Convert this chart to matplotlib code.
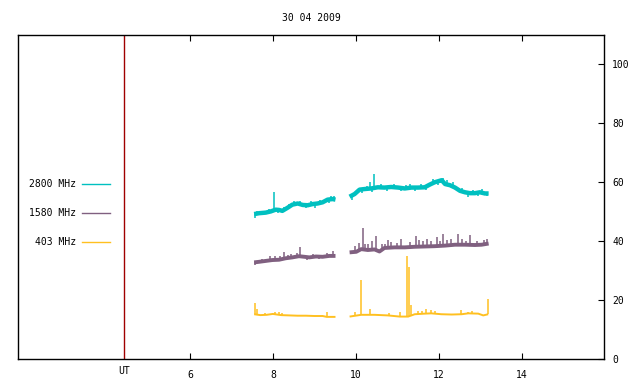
import numpy as np
import matplotlib
matplotlib.use("Agg")
import matplotlib.pyplot as plt
from matplotlib.lines import Line2D

plt.rcParams['font.family'] = ['DejaVu Sans Mono']

title = "30 04 2009"
labels = ["2800 MHz", "1580 MHz", "403 MHz"]
colors = ["#00c0c0", "#806080", "#ffc020"]
ut_hour = 4.42

# 2800 MHz, two segments (hour, value)
t2800_a = [7.55, 7.67, 7.83, 7.95, 8.07, 8.15, 8.23, 8.35, 8.47, 8.60, 8.72, 8.84, 8.96, 9.08, 9.20, 9.32, 9.44, 9.51]
v2800_a = [49.2, 49.5, 49.7, 50.1, 50.7, 50.6, 50.3, 51.3, 52.4, 52.8, 52.3, 52.2, 52.6, 52.8, 53.2, 54.1, 54.3, 54.1]
t2800_b = [9.85, 9.97, 10.09, 10.21, 10.37, 10.53, 10.69, 10.85, 11.02, 11.18, 11.34, 11.50, 11.66, 11.78, 11.90,
           12.02, 12.07, 12.15, 12.27, 12.39, 12.51, 12.63, 12.75, 12.87, 12.99, 13.11, 13.20]
v2800_b = [55.1, 56.0, 57.5, 57.7, 57.9, 58.3, 58.2, 58.4, 58.2, 57.9, 58.2, 58.2, 58.3, 59.2, 60.0,
           60.5, 60.7, 59.4, 59.0, 58.2, 57.1, 56.6, 56.3, 56.3, 56.6, 56.2, 56.2]
s2800_t = [8.03, 10.33, 10.45, 11.30, 12.20, 8.50, 9.40,
           7.56, 7.62, 7.74, 7.90, 8.12, 8.28, 8.40, 8.66, 8.80, 8.92, 9.02, 9.14, 9.26, 9.36, 9.48,
           9.90, 10.02, 10.15, 10.27, 10.40, 10.60, 10.75, 10.92, 11.08, 11.22, 11.42, 11.58, 11.70,
           11.85, 11.97, 12.10, 12.33, 12.45, 12.57, 12.70, 12.82, 12.94, 13.05, 13.16]
s2800_v = [56.8, 60.0, 62.8, 59.4, 60.9, 53.6, 55.3,
           48.0, 50.4, 48.8, 51.0, 49.4, 51.6, 52.5, 53.7, 51.3, 53.5, 51.4, 53.9, 54.2, 52.8, 55.4,
           54.0, 57.0, 56.4, 58.9, 56.8, 59.5, 57.0, 59.3, 57.0, 59.0, 57.0, 59.4, 57.5,
           61.0, 59.2, 61.6, 60.2, 56.9, 58.2, 55.0, 57.4, 55.2, 57.6, 55.2]

# 1580 MHz
t1580_a = [7.55, 7.67, 7.83, 7.99, 8.15, 8.31, 8.47, 8.63, 8.76, 8.88, 9.04, 9.20, 9.36, 9.51]
v1580_a = [32.8, 33.0, 33.3, 33.6, 33.7, 34.2, 34.5, 34.9, 34.7, 34.5, 34.8, 34.7, 35.0, 35.0]
t1580_b = [9.85, 10.01, 10.13, 10.29, 10.45, 10.57, 10.69, 10.93, 11.18, 11.42, 11.66, 11.90, 12.15, 12.39,
           12.63, 12.87, 13.03, 13.20]
v1580_b = [36.2, 36.4, 37.3, 37.0, 37.2, 36.5, 37.7, 37.9, 37.9, 38.1, 38.2, 38.3, 38.5, 38.8,
           38.8, 38.7, 38.8, 39.2]
s1580_t = [7.93, 8.27, 8.66, 9.46, 9.97, 10.17, 10.49, 10.85, 11.10, 11.46, 11.62, 11.82, 11.95, 12.11,
           12.20, 12.46, 12.75, 13.16, 8.05, 8.45, 10.30, 10.70,
           7.58, 7.75, 8.18, 8.36, 8.58, 8.82, 8.98, 9.12, 9.30, 10.08, 10.22, 10.40, 10.62, 10.78,
           11.00, 11.30, 11.52, 11.72, 12.02, 12.30, 12.55, 12.65, 12.92, 13.08]
s1580_v = [34.8, 36.2, 38.1, 36.7, 38.4, 44.4, 41.8, 39.6, 40.7, 41.6, 39.9, 40.0, 41.3, 42.6,
           40.3, 42.6, 42.0, 40.7, 35.0, 35.6, 39.0, 39.2,
           31.8, 34.0, 35.0, 35.4, 36.0, 33.6, 35.8, 33.8, 36.0, 39.5, 38.9, 40.0, 39.2, 40.4,
           39.4, 39.8, 40.3, 40.6, 39.9, 40.6, 40.8, 40.0, 40.1, 40.3]

# 403 MHz
t403_a = [7.55, 7.70, 7.85, 8.00, 8.10, 8.20, 8.40, 8.60, 8.80, 9.00, 9.20, 9.30, 9.51]
v403_a = [15.2, 14.9, 15.0, 15.3, 15.1, 14.9, 14.8, 14.7, 14.7, 14.6, 14.6, 14.3, 14.3]
t403_b = [9.85, 10.13, 10.45, 10.77, 11.06, 11.26, 11.42, 11.66, 11.82, 12.06, 12.31, 12.55, 12.71, 12.95,
          13.07, 13.19]
v403_b = [14.4, 15.0, 15.0, 14.8, 14.4, 14.4, 15.2, 15.4, 15.5, 15.2, 15.1, 15.2, 15.5, 15.4,
          14.8, 15.2]
s403_t = [7.56, 7.62, 8.05, 9.30, 9.98, 10.13, 10.33, 10.81, 11.06, 11.24, 11.27, 11.34, 11.82, 12.54, 13.18,
          7.80, 8.15, 8.22, 11.50, 11.60, 11.70, 11.90, 12.70, 12.80]
s403_v = [18.9, 16.9, 16.0, 15.8, 15.8, 26.9, 17.1, 15.6, 16.0, 35.0, 31.4, 18.4, 16.5, 16.6, 20.3,
          15.6, 15.8, 15.6, 16.2, 16.4, 16.9, 16.2, 16.1, 16.2]

xticks = [6, 8, 10, 12, 14]
yticks = [0, 20, 40, 60, 80, 100]

fig = plt.figure(figsize=(6.4, 3.84), dpi=100)
W, H = 640, 384
ax = fig.add_axes([18 / W, (H - 359) / H, (604 - 18) / W, (359 - 35) / H])
ax.set_xlim(1.86, 15.98)
ax.set_ylim(0, 110)

series = [
    (t2800_a, v2800_a, t2800_b, v2800_b, s2800_t, s2800_v, 3.2),
    (t1580_a, v1580_a, t1580_b, v1580_b, s1580_t, s1580_v, 2.8),
    (t403_a, v403_a, t403_b, v403_b, s403_t, s403_v, 1.4),
]
for (ta, va, tb, vb, st, sv, lw), c in zip(series, colors):
    ax.plot(ta, va, color=c, lw=lw, solid_capstyle='butt')
    ax.plot(tb, vb, color=c, lw=lw, solid_capstyle='butt')
    st = np.array(st)
    base = np.where(st < 9.7, np.interp(st, ta, va), np.interp(st, tb, vb))
    ax.vlines(st, base, sv, color=c, lw=1.1)

ax.axvline(ut_hour, color="#a00000", lw=1)

ax.set_xticks(xticks)
ax.set_xticklabels([str(x) for x in xticks])
ax.set_yticks(yticks)
ax.yaxis.tick_right()
ax.tick_params(axis='x', direction='in', length=4, width=0.8, top=True, bottom=True,
               labelsize=7, pad=8)
ax.tick_params(axis='y', direction='in', length=4, width=0.8, left=False, right=True,
               labelsize=7, pad=6)
for sp in ax.spines.values():
    sp.set_linewidth(1.0)

ax.text(ut_hour, -0.022, "UT", transform=ax.get_xaxis_transform(), ha='center', va='top', fontsize=7)

fig.text(311 / W, 1 - 18 / H, title, ha='center', va='center', fontsize=7)

# legend, placed by hand like the original
for i, (lab, c) in enumerate(zip(labels, colors)):
    y = 1 - (184 + 29 * i) / H
    fig.text(76 / W, y, lab, ha='right', va='center', fontsize=7)
    fig.add_artist(Line2D([82 / W, 110 / W], [y, y], transform=fig.transFigure, color=c, lw=1))

fig.savefig("out.png", dpi=100)
